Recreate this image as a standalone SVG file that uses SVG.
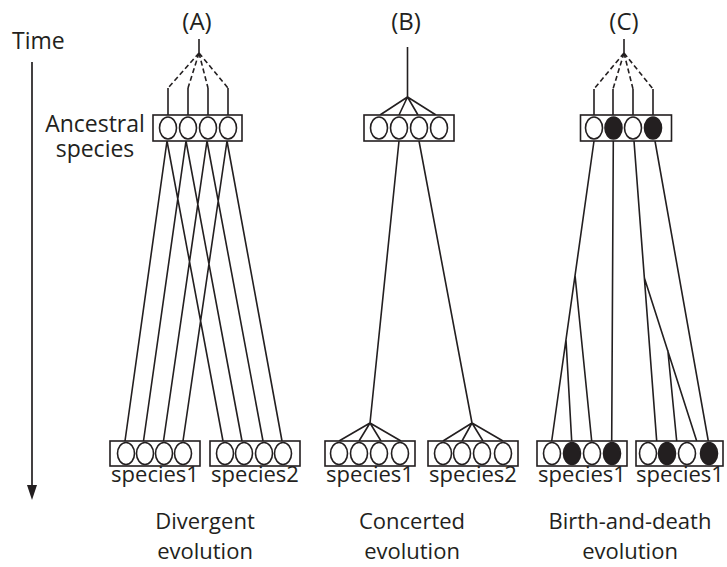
<svg xmlns="http://www.w3.org/2000/svg" width="727" height="567" viewBox="0 0 727 567">
<style>
.ln{stroke:#231f20;stroke-width:1.6;fill:none}
.dash{stroke-dasharray:5 3}
.box{fill:#fff;stroke:#231f20;stroke-width:1.6}
.ow{fill:#fff;stroke:#231f20;stroke-width:1.6}
.ob{fill:#231f20;stroke:#231f20;stroke-width:1.6}
text{font-family:"Open Sans","Liberation Sans",sans-serif;font-size:22px;fill:#231f20}
.c{text-anchor:middle}
.big{font-size:23px}
.pl{font-size:24px}
</style>
<rect width="727" height="567" fill="#fff"/>
<g id="time">
<text class="big" x="12" y="49">Time</text>
<line class="ln" x1="32" y1="62" x2="32" y2="487" style="stroke-width:1.7"/>
<polygon points="27,485 37,485 32,500" fill="#231f20"/>
</g>
<g id="panel-labels">
<text class="c pl" x="197" y="30">(A)</text>
<text class="c pl" x="406" y="30">(B)</text>
<text class="c pl" x="624" y="30">(C)</text>
<text class="c big" x="95" y="132"><tspan x="95" y="132">Ancestral</tspan><tspan x="95" y="157">species</tspan></text>
<text class="c" x="205" y="529"><tspan x="205" y="529">Divergent</tspan><tspan x="205" y="559">evolution</tspan></text>
<text class="c" x="412" y="529"><tspan x="412" y="529">Concerted</tspan><tspan x="412" y="559">evolution</tspan></text>
<text class="c" x="630" y="529"><tspan x="630" y="529">Birth-and-death</tspan><tspan x="630" y="559">evolution</tspan></text>
</g>
<g id="connectors">
<line class="ln" x1="199" y1="39" x2="199" y2="53"/>
<path class="ln dash" d="M199,53 L168,88 M199,53 L188,88 M199,53 L208,88 M199,53 L228,88"/>
<path class="ln" d="M168,88 V115 M188,88 V115 M208,88 V115 M228,88 V115"/>
<path class="ln" d="M167,141 L125,441 M167,141 L223,441 M186,141 L143.5,441 M186,141 L242,441 M207,141 L163.5,441 M207,141 L263,441 M227,141 L183,441 M227,141 L282,441"/>
<line class="ln" x1="407.5" y1="47" x2="407.5" y2="97"/>
<path class="ln" d="M407.5,97 L380,115 M407.5,97 L399,115 M407.5,97 L418,115 M407.5,97 L436,115"/>
<path class="ln" d="M399,141 L370,423 M419,141 L472,423"/>
<path class="ln" d="M370,423 L339,441 M370,423 L359,441 M370,423 L381,441 M370,423 L401,441"/>
<path class="ln" d="M472,423 L443,441 M472,423 L462,441 M472,423 L483,441 M472,423 L503,441"/>
<line class="ln" x1="624" y1="39" x2="624" y2="53"/>
<path class="ln dash" d="M624,53 L594,89 M624,53 L613,89 M624,53 L633,89 M624,53 L653,89"/>
<path class="ln" d="M594,89 V115 M613,89 V115 M633,89 V115 M653,89 V115"/>
<path class="ln" d="M594,141 L551.7,441 M575,275 L591.7,441 M566,340 L571.7,441 M613.3,141 L611.7,441 M634,141 L656.7,441 M644.4,278 L696.7,441 M667.8,350 L676.7,441 M655,141 L708.3,441"/>
</g>
<g id="A-ancestral">
<rect class="box" x="153" y="115" width="89" height="26"/>
<ellipse class="ow" cx="168" cy="128" rx="8.5" ry="11"/>
<ellipse class="ow" cx="188" cy="128" rx="8.5" ry="11"/>
<ellipse class="ow" cx="208" cy="128" rx="8.5" ry="11"/>
<ellipse class="ow" cx="228" cy="128" rx="8.5" ry="11"/>
</g>
<g id="A-species1">
<rect class="box" x="110" y="441" width="90" height="25"/>
<ellipse class="ow" cx="126" cy="453.5" rx="8.5" ry="11"/>
<ellipse class="ow" cx="145" cy="453.5" rx="8.5" ry="11"/>
<ellipse class="ow" cx="164" cy="453.5" rx="8.5" ry="11"/>
<ellipse class="ow" cx="183" cy="453.5" rx="8.5" ry="11"/>
<text class="c" x="155" y="482">species1</text>
</g>
<g id="A-species2">
<rect class="box" x="210" y="441" width="90" height="25"/>
<ellipse class="ow" cx="225" cy="453.5" rx="8.5" ry="11"/>
<ellipse class="ow" cx="244" cy="453.5" rx="8.5" ry="11"/>
<ellipse class="ow" cx="264" cy="453.5" rx="8.5" ry="11"/>
<ellipse class="ow" cx="283" cy="453.5" rx="8.5" ry="11"/>
<text class="c" x="255" y="482">species2</text>
</g>
<g id="B-ancestral">
<rect class="box" x="364" y="115" width="90" height="26"/>
<ellipse class="ow" cx="379" cy="128" rx="8.5" ry="11"/>
<ellipse class="ow" cx="399" cy="128" rx="8.5" ry="11"/>
<ellipse class="ow" cx="419" cy="128" rx="8.5" ry="11"/>
<ellipse class="ow" cx="439" cy="128" rx="8.5" ry="11"/>
</g>
<g id="B-species1">
<rect class="box" x="325" y="441" width="90" height="25"/>
<ellipse class="ow" cx="339" cy="453.5" rx="8.5" ry="11"/>
<ellipse class="ow" cx="359" cy="453.5" rx="8.5" ry="11"/>
<ellipse class="ow" cx="379" cy="453.5" rx="8.5" ry="11"/>
<ellipse class="ow" cx="400" cy="453.5" rx="8.5" ry="11"/>
<text class="c" x="370" y="482">species1</text>
</g>
<g id="B-species2">
<rect class="box" x="428" y="441" width="90" height="25"/>
<ellipse class="ow" cx="443" cy="453.5" rx="8.5" ry="11"/>
<ellipse class="ow" cx="462" cy="453.5" rx="8.5" ry="11"/>
<ellipse class="ow" cx="482" cy="453.5" rx="8.5" ry="11"/>
<ellipse class="ow" cx="503" cy="453.5" rx="8.5" ry="11"/>
<text class="c" x="473" y="482">species2</text>
</g>
<g id="C-ancestral">
<rect class="box" x="580.5" y="115" width="91" height="26"/>
<ellipse class="ow" cx="594" cy="128" rx="8.5" ry="11"/>
<ellipse class="ob" cx="613.5" cy="128" rx="8.5" ry="11"/>
<ellipse class="ow" cx="633" cy="128" rx="8.5" ry="11"/>
<ellipse class="ob" cx="653" cy="128" rx="8.5" ry="11"/>
</g>
<g id="C-species1a">
<rect class="box" x="537" y="441" width="90" height="25"/>
<ellipse class="ow" cx="552" cy="453.5" rx="8.5" ry="11"/>
<ellipse class="ob" cx="572" cy="453.5" rx="8.5" ry="11"/>
<ellipse class="ow" cx="592" cy="453.5" rx="8.5" ry="11"/>
<ellipse class="ob" cx="612" cy="453.5" rx="8.5" ry="11"/>
<text class="c" x="582" y="482">species1</text>
</g>
<g id="C-species1b">
<rect class="box" x="636" y="441" width="87" height="25"/>
<ellipse class="ow" cx="648" cy="453.5" rx="8.5" ry="11"/>
<ellipse class="ob" cx="667" cy="453.5" rx="8.5" ry="11"/>
<ellipse class="ow" cx="687" cy="453.5" rx="8.5" ry="11"/>
<ellipse class="ob" cx="709" cy="453.5" rx="8.5" ry="11"/>
<text class="c" x="680" y="482">species1</text>
</g>
</svg>
